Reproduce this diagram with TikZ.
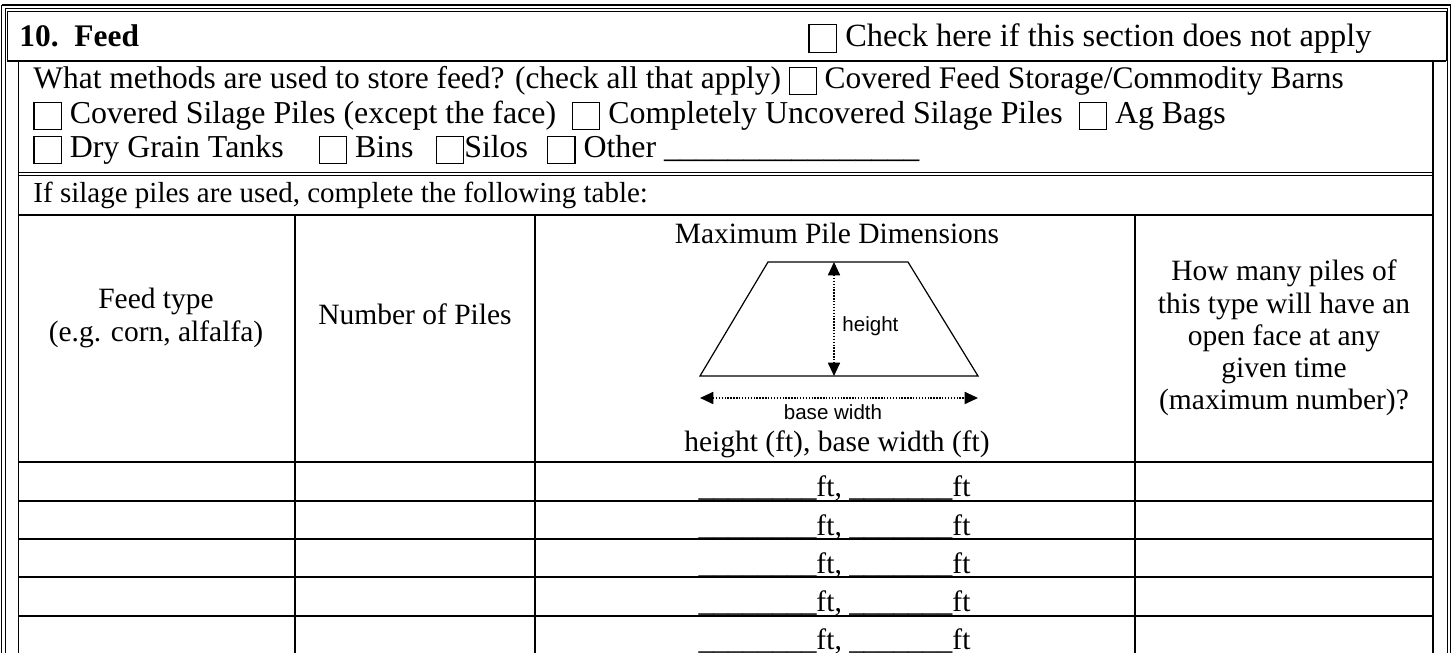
\documentclass[tikz,border=0pt]{standalone}
\usepackage{fontspec}
\setmainfont{Liberation Serif}
\newfontfamily\arialfont{Liberation Sans}
\usetikzlibrary{arrows.meta}

\newcommand{\cbox}{{\setlength{\fboxsep}{0pt}\setlength{\fboxrule}{0.45pt}\raisebox{-0.15em}{\fbox{\rule{0pt}{0.82em}\hspace{0.82em}}}}}
\newcommand{\ftblanks}{\_\_\_\_\_\_\_\_ft, \_\_\_\_\_\_\_ft}

\tikzset{
	gridline/.style={line width=0.75pt},
	frameline/.style={line width=0.55pt},
	dimarrow/.style={line width=0.6pt, dash pattern=on 0.6pt off 0.6pt, {Triangle[length=5.5pt,width=5pt]}-{Triangle[length=5.5pt,width=5pt]}},
}

\begin{document}
\begin{tikzpicture}[x=0.4138pt, y=-0.4138pt]
	\useasboundingbox (0,0) rectangle (1452,653);
	\clip (0,0) rectangle (1452,653);
	\begin{scope}[frameline]
		\draw (1.8,5) -- (1450.5,5) -- (1450.5,700);
		\draw (1.8,5) -- (1.8,700);
		\draw (5.3,8.8) -- (1447.3,8.8) -- (1447.3,700);
		\draw (5.3,8.8) -- (5.3,700);
		\draw[line width=0.4pt] (7,61) -- (7,11) -- (1446,11) -- (1446,61);
	\end{scope}
	\begin{scope}[gridline]
		\draw (7,61) -- (1446,61);
		\draw (18.5,61) -- (18.5,700);
		\draw (1433,61) -- (1433,700);
		\draw[line width=0.5pt] (18.5,172.5) -- (1433,172.5);
		\draw[line width=0.5pt] (18.5,175.5) -- (1433,175.5);
		\draw (18.5,215) -- (1433,215);
		\foreach \y in {462.3,500.7,539,577.3,615.7}
			\draw (18.5,\y) -- (1433,\y);
		\foreach \x in {295,535,1135}
			\draw (\x,215) -- (\x,700);
	\end{scope}
	\begin{scope}[every node/.style={inner sep=0pt, anchor=base west, font=\fontsize{13.2}{15}\selectfont}]
		\node[font=\bfseries\fontsize{13}{15}\selectfont] (title) at (19,46.5) {10.\ \ Feed};
		\node[font=\fontsize{13.4}{15}\selectfont] (skip) at (808,47) {\cbox\ Check here if this section does not apply};
		\node[font=\fontsize{13}{15}\selectfont] (q1) at (33,89) {What methods are used to store feed? (check all that apply) \cbox\ Covered Feed Storage/Commodity Barns};
		\node (q2) at (33,124) {\cbox\ Covered Silage Piles (except the face) \ \cbox\ Completely Uncovered Silage Piles \ \cbox\ Ag Bags};
		\node (q3) at (33,158) {\cbox\ Dry Grain Tanks\hspace{1.1em}\cbox\ Bins\hspace{0.7em}\cbox Silos\hspace{0.6em}\cbox\ Other \_\_\_\_\_\_\_\_\_\_\_\_\_\_\_\_};
		\node[font=\fontsize{12}{14}\selectfont] (q4) at (33,203) {If silage piles are used, complete the following table:};
	\end{scope}
	\begin{scope}[every node/.style={inner sep=0pt, anchor=base, font=\fontsize{12.2}{14}\selectfont}]
		\node (feed1) at (156,309) {Feed type};
		\node (feed2) at (156,342) {(e.g. corn, alfalfa)};
		\node (piles) at (415,325) {Number of Piles};
		\node (dims) at (837,243.5) {Maximum Pile Dimensions};
		\node (units) at (837,451.5) {height (ft), base width (ft)};
		\node (open1) at (1284,281) {How many piles of};
		\node (open2) at (1284,313.5) {this type will have an};
		\node (open3) at (1284,346) {open face at any};
		\node (open4) at (1284,378) {given time};
		\node (open5) at (1284,410) {(maximum number)?};
		\node (ft1) at (834.5,497) {\ftblanks};
		\node (ft2) at (834.5,535.5) {\ftblanks};
		\node (ft3) at (834.5,573.5) {\ftblanks};
		\node (ft4) at (834.5,612) {\ftblanks};
		\node (ft5) at (834.5,650) {\ftblanks};
	\end{scope}
	\coordinate (bl) at (700,376);
	\coordinate (tl) at (768,262);
	\coordinate (tr) at (908,262);
	\coordinate (br) at (978,376);
	\coordinate (ht) at (834,262);
	\coordinate (hb) at (834,376);
	\coordinate (wl) at (700,398);
	\coordinate (wr) at (978,398);
	\draw[line width=0.5pt] (bl) -- (tl) -- (tr) -- (br) -- cycle;
	\draw[dimarrow] (ht) -- (hb);
	\draw[dimarrow] (wl) -- (wr);
	\begin{scope}[every node/.style={inner sep=0pt, font=\arialfont\fontsize{8.5}{10}\selectfont}]
		\node[anchor=base west] (hlab) at (842,332) {height};
		\node[anchor=base] (wlab) at (833,420) {base width};
	\end{scope}
\end{tikzpicture}
\end{document}
